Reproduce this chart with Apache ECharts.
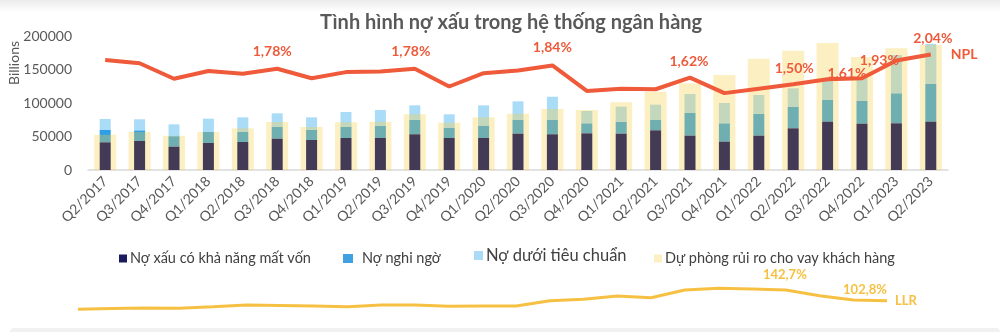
<!DOCTYPE html>
<html>
<head>
<meta charset="utf-8">
<script src="https://cdn.jsdelivr.net/npm/echarts@6/dist/echarts.min.js"></script>
<style>
  html, body { margin: 0; padding: 0; background: #ffffff; }
  #chart { width: 1000px; height: 332px; }
</style>
</head>
<body>
<div id="chart"></div>
<script>
// Quarterly reporting periods
const categories = [
  'Q2/2017', 'Q3/2017', 'Q4/2017', 'Q1/2018', 'Q2/2018', 'Q3/2018', 'Q4/2018',
  'Q1/2019', 'Q2/2019', 'Q3/2019', 'Q4/2019', 'Q1/2020', 'Q2/2020', 'Q3/2020',
  'Q4/2020', 'Q1/2021', 'Q2/2021', 'Q3/2021', 'Q4/2021', 'Q1/2022', 'Q2/2022',
  'Q3/2022', 'Q4/2022', 'Q1/2023', 'Q2/2023'
];

// Bad-debt groups (billion VND)
const lossDebt = [41300, 43300, 34800, 40300, 41800, 46700, 44800, 47800, 47800, 53300, 47800, 47800, 54200,
  53300, 54700, 54200, 59200, 51200, 42300, 51200, 62200, 72100, 69100, 69700, 72100];
const doubtfulDebt = [18400, 15900, 15700, 16400, 14900, 18000, 15400, 16900, 18400, 21300, 14900, 17900, 20400,
  21300, 15000, 17900, 15400, 34300, 27400, 32800, 32300, 32400, 33900, 44800, 56300];
const substandardDebt = [16400, 16500, 17700, 19900, 21900, 19900, 18400, 21900, 23400, 21900, 20400, 30800, 27900,
  34800, 18400, 22400, 22900, 27900, 30300, 27900, 27400, 31300, 34500, 57100, 59700];

// Loan loss provisions (billion VND)
const loanLossProvision = [52700, 56700, 51000, 56700, 62200, 71600, 64200, 71100, 72100, 83100, 70600, 78600, 84000,
  91000, 89600, 101000, 116900, 129400, 141800, 166100, 178100, 189500, 168700, 181600, 186600];

// NPL ratio (%) and loan loss reserve coverage (%)
const nplRatio = [1.94, 1.88, 1.60, 1.74, 1.69, 1.78, 1.61, 1.72, 1.73, 1.78, 1.46, 1.70, 1.75,
  1.84, 1.38, 1.42, 1.41, 1.62, 1.34, 1.42, 1.50, 1.59, 1.61, 1.93, 2.04];
const llrRatio = [70.7, 73.3, 75.6, 74.4, 80.0, 86.8, 84.9, 83.0, 80.4, 86.8, 86.8, 81.9, 83.0,
  83.0, 102.8, 108.0, 120.3, 114.0, 142.7, 149.1, 146.5, 142.7, 121.5, 105.4, 102.8];

// Left axis ticks
const yAxisMax = 200000;
const yAxisStep = 50000;

// Which points carry a value label, and how each label is nudged
const nplLabelOffsets = { 5: [-5, -10], 9: [-4, -10], 13: [0, -11], 17: [-1, -9], 20: [1, -9], 22: [-15, 2], 23: [-17, 7], 24: [2, -9] };
const llrLabelOffsets = { 21: [-1, -9], 24: [-22, -4] };

const FONT = 'Lato';
const NPL_COLOR = '#ee5a3a';
const LLR_COLOR = '#f6c143';

const pct = (v, digits) => v.toFixed(digits).replace('.', ',') + '%';

const nplData = nplRatio.map((v, i) => {
  const off = nplLabelOffsets[i];
  return off ? { value: v, label: { show: true, offset: off } } : { value: v };
});
const llrData = llrRatio.map((v, i) => {
  const off = llrLabelOffsets[i];
  return off ? { value: v, label: { show: true, offset: off } } : { value: v };
});

const chart = echarts.init(document.getElementById('chart'), null, { renderer: 'canvas' });

const legendText = { fontFamily: FONT, fontSize: 14.5, color: '#404040', padding: [0, 0, 0, -2] };

chart.setOption({
  animation: false,
  backgroundColor: '#ffffff',
  textStyle: { fontFamily: FONT },
  graphic: [
    {
      type: 'rect', silent: true, z: -10,
      shape: { x: 0, y: 0, width: 1000, height: 12 },
      style: { fill: new echarts.graphic.LinearGradient(0, 0, 0, 1, [
        { offset: 0, color: '#ebebeb' }, { offset: 1, color: '#ffffff' }
      ]) }
    },
    {
      type: 'rect', silent: true, z: -10,
      shape: { x: 10, y: 328, width: 990, height: 8, r: 4 },
      style: { fill: '#f1f1f1' }
    },
    {
      type: 'text', silent: true,
      style: {
        x: 511, y: 23, text: 'Tình hình nợ xấu trong hệ thống ngân hàng',
        textAlign: 'center', textVerticalAlign: 'middle',
        font: 'bold 20px ' + FONT, fill: '#595959'
      }
    },
    {
      type: 'text', silent: true, rotation: Math.PI / 2, x: 14, y: 63,
      style: {
        text: 'Billions', textAlign: 'center', textVerticalAlign: 'middle',
        font: '14px ' + FONT, fill: '#595959'
      }
    }
  ],
  legend: [
    {
      left: 114, top: 246, icon: 'rect', itemWidth: 8, itemHeight: 8, selectedMode: false,
      textStyle: legendText,
      data: [{ name: 'Nợ xấu có khả năng mất vốn', itemStyle: { color: '#1c1a5e' } }]
    },
    {
      left: 338, top: 246, icon: 'rect', itemWidth: 10, itemHeight: 9, selectedMode: false,
      textStyle: Object.assign({}, legendText, { padding: [0, 0, 0, 4] }),
      data: [{ name: 'Nợ nghi ngờ', itemStyle: { color: '#3fa1e2' } }]
    },
    {
      left: 469, top: 242, icon: 'rect', itemWidth: 9, itemHeight: 9, selectedMode: false,
      textStyle: Object.assign({}, legendText, { fontSize: 16.5 }),
      data: [{ name: 'Nợ dưới tiêu chuẩn', itemStyle: { color: '#aadcf8' } }]
    },
    {
      left: 649, top: 246, icon: 'rect', itemWidth: 8, itemHeight: 8, selectedMode: false,
      textStyle: legendText,
      data: [{ name: 'Dự phòng rủi ro cho vay khách hàng', itemStyle: { color: '#fcefc4' } }]
    }
  ],
  grid: [
    { left: 88, right: 52, top: 36, bottom: 162 },
    { left: 78, right: 113, top: 270, bottom: 12 }
  ],
  xAxis: [
    {
      type: 'category', gridIndex: 0, data: categories,
      axisLine: { lineStyle: { color: '#d9d9d9', width: 1.5 } },
      axisTick: { show: false },
      axisLabel: { rotate: 45, interval: 0, margin: 9, fontSize: 14, color: '#595959', fontFamily: FONT }
    },
    { type: 'category', gridIndex: 0, data: categories, show: false },
    { type: 'category', gridIndex: 1, data: categories, show: false, boundaryGap: false }
  ],
  yAxis: [
    {
      type: 'value', gridIndex: 0, min: 0, max: yAxisMax, interval: yAxisStep,
      axisLine: { show: false }, axisTick: { show: false }, splitLine: { show: false },
      axisLabel: { fontSize: 14, color: '#595959', margin: 16, fontFamily: FONT, formatter: v => String(v) }
    },
    { type: 'value', gridIndex: 0, min: -0.05, max: 2.373, show: false },
    { type: 'value', gridIndex: 1, min: 30.8, max: 217.4, show: false }
  ],
  series: [
    {
      name: 'Nợ xấu có khả năng mất vốn', type: 'bar', stack: 'debt',
      xAxisIndex: 0, yAxisIndex: 0, barWidth: 11, z: 4,
      itemStyle: { color: '#433a55' }, data: lossDebt
    },
    {
      name: 'Nợ nghi ngờ', type: 'bar', stack: 'debt',
      xAxisIndex: 0, yAxisIndex: 0, barWidth: 11, z: 2,
      itemStyle: { color: '#2e9ee6' }, data: doubtfulDebt
    },
    {
      name: 'Nợ dưới tiêu chuẩn', type: 'bar', stack: 'debt',
      xAxisIndex: 0, yAxisIndex: 0, barWidth: 11, z: 2,
      itemStyle: { color: '#aadcf8' }, data: substandardDebt
    },
    {
      name: 'Dự phòng rủi ro cho vay khách hàng', type: 'bar',
      xAxisIndex: 1, yAxisIndex: 0, barWidth: 22, z: 3,
      itemStyle: { color: 'rgba(245,205,70,0.33)' }, data: loanLossProvision
    },
    {
      name: 'NPL', type: 'line', xAxisIndex: 0, yAxisIndex: 1, z: 5,
      symbol: 'circle', symbolSize: 0, showSymbol: true,
      lineStyle: { color: NPL_COLOR, width: 4 },
      itemStyle: { color: NPL_COLOR },
      label: {
        show: false, position: 'top', distance: 0,
        fontFamily: FONT, fontSize: 14, fontWeight: 'bold', color: NPL_COLOR,
        formatter: p => pct(p.value, 2)
      },
      endLabel: {
        show: true, distance: 20, formatter: 'NPL',
        fontFamily: FONT, fontSize: 14, fontWeight: 'bold', color: NPL_COLOR
      },
      data: nplData
    },
    {
      name: 'LLR', type: 'line', xAxisIndex: 2, yAxisIndex: 2, z: 5,
      symbol: 'circle', symbolSize: 0, showSymbol: true,
      lineStyle: { color: LLR_COLOR, width: 3 },
      itemStyle: { color: LLR_COLOR },
      label: {
        show: false, position: 'top', distance: 0,
        fontFamily: FONT, fontSize: 13, fontWeight: 'bold', color: LLR_COLOR,
        formatter: p => pct(p.value, 1)
      },
      endLabel: {
        show: true, distance: 8, formatter: 'LLR',
        fontFamily: FONT, fontSize: 13, fontWeight: 'bold', color: LLR_COLOR
      },
      data: llrData
    }
  ]
});
</script>
</body>
</html>
